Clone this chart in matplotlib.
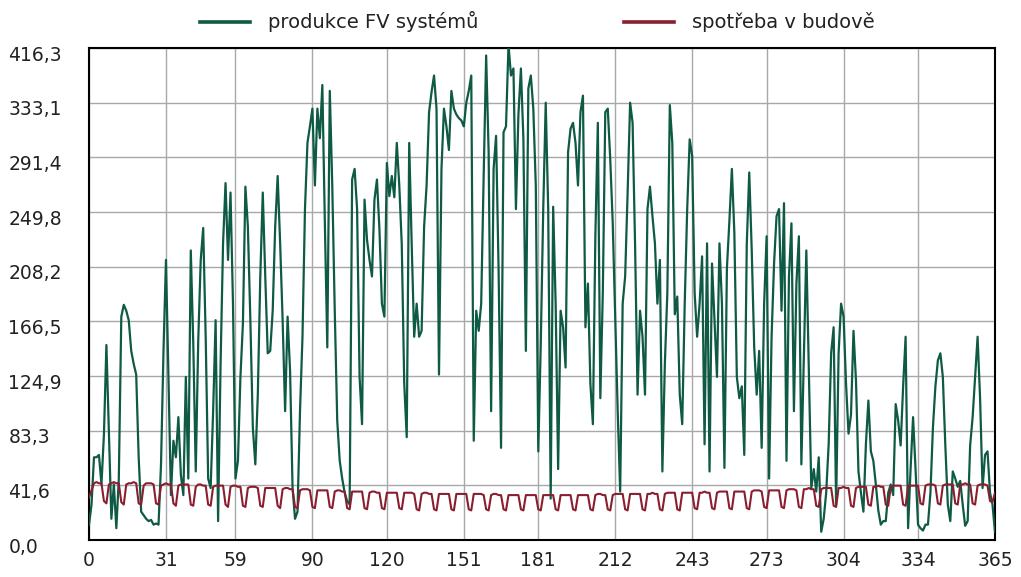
import numpy as np
import matplotlib
matplotlib.use("Agg")
import matplotlib.pyplot as plt
import matplotlib.transforms as mtransforms

# daily PV production, day 0..365
production = [
    13, 30, 70, 70, 72, 47, 89, 165, 92, 18,
    47, 10, 52, 189, 199, 194, 186, 160, 149, 140,
    70, 24, 21, 18, 16, 17, 13, 14, 13, 64,
    160, 237, 138, 38, 84, 70, 104, 55, 38, 138,
    52, 245, 166, 58, 169, 237, 264, 172, 52, 44,
    109, 186, 16, 149, 251, 302, 237, 294, 200, 52,
    67, 138, 183, 299, 265, 186, 95, 64, 123, 223,
    294, 223, 158, 160, 194, 265, 308, 251, 186, 109,
    189, 143, 44, 18, 24, 109, 172, 280, 336, 350,
    365, 300, 365, 340, 385, 270, 163, 380, 300, 194,
    101, 67, 52, 40, 33, 30, 305, 314, 280, 138,
    98, 288, 254, 237, 223, 288, 305, 263, 200, 189,
    319, 291, 308, 290, 336, 300, 250, 132, 87, 336,
    250, 172, 200, 172, 177, 265, 300, 362, 379, 393,
    365, 140, 314, 365, 350, 330, 380, 365, 360, 357,
    355, 350, 370, 380, 393, 84, 194, 177, 200, 308,
    410, 328, 109, 314, 342, 230, 78, 345, 350, 419,
    393, 399, 280, 360, 399, 340, 160, 382, 393, 365,
    300, 75, 166, 280, 370, 280, 35, 282, 200, 60,
    194, 180, 146, 328, 348, 353, 336, 300, 362, 376,
    180, 217, 132, 98, 257, 353, 120, 209, 362, 365,
    322, 268, 189, 109, 41, 200, 223, 294, 370, 353,
    250, 123, 194, 172, 123, 280, 299, 274, 251, 200,
    237, 58, 149, 209, 368, 336, 191, 206, 123, 98,
    200, 280, 339, 325, 209, 172, 200, 240, 81, 251,
    58, 234, 186, 138, 251, 200, 61, 230, 270, 314,
    260, 138, 120, 130, 72, 250, 311, 245, 163, 123,
    160, 78, 200, 257, 52, 172, 234, 274, 280, 194,
    285, 67, 223, 268, 109, 217, 257, 64, 155, 245,
    143, 44, 60, 41, 70, 7, 18, 40, 81, 158,
    180, 30, 158, 200, 189, 132, 90, 106, 177, 135,
    58, 40, 24, 81, 118, 75, 67, 47, 25, 13,
    16, 16, 40, 47, 38, 115, 101, 80, 130, 172,
    10, 60, 104, 60, 13, 10, 8, 13, 13, 40,
    95, 130, 152, 158, 138, 80, 30, 16, 58, 52,
    45, 50, 30, 12, 16, 80, 104, 138, 172, 120,
    44, 72, 75, 40, 30, 7,
]

# building consumption, day 0 then one row per week
consumption = [
    36,
    42, 48, 49, 48, 48, 33, 31,
    47, 48, 49, 48, 48, 32, 30,
    47, 48, 48, 49, 48, 31, 30,
    46, 48, 48, 48, 47, 31, 30,
    46, 47, 48, 47, 47, 31, 29,
    46, 47, 47, 47, 47, 30, 29,
    45, 47, 47, 46, 46, 30, 29,
    45, 46, 46, 46, 46, 30, 28,
    45, 46, 46, 45, 45, 29, 28,
    44, 45, 45, 45, 44, 29, 28,
    44, 44, 44, 44, 44, 29, 27,
    43, 44, 44, 43, 43, 28, 27,
    42, 43, 43, 43, 42, 28, 27,
    42, 42, 42, 42, 42, 28, 27,
    41, 42, 42, 41, 41, 27, 26,
    41, 41, 41, 41, 41, 27, 26,
    40, 41, 41, 40, 40, 27, 26,
    40, 40, 40, 40, 40, 27, 26,
    40, 40, 40, 40, 39, 26, 25,
    39, 40, 40, 39, 39, 26, 25,
    39, 39, 39, 39, 39, 26, 25,
    39, 39, 39, 39, 39, 26, 25,
    39, 39, 39, 39, 38, 26, 25,
    38, 39, 39, 38, 38, 26, 25,
    38, 38, 38, 38, 38, 26, 25,
    38, 38, 38, 38, 38, 26, 25,
    38, 38, 38, 38, 38, 26, 25,
    38, 38, 38, 38, 38, 26, 25,
    38, 38, 38, 38, 38, 26, 25,
    38, 39, 39, 38, 38, 26, 25,
    38, 39, 39, 39, 39, 26, 25,
    39, 39, 39, 39, 39, 26, 25,
    39, 39, 40, 39, 39, 26, 25,
    39, 40, 40, 40, 40, 26, 25,
    40, 40, 40, 40, 40, 27, 26,
    40, 40, 41, 40, 40, 27, 26,
    40, 41, 41, 41, 41, 27, 26,
    41, 41, 41, 41, 41, 27, 26,
    41, 42, 42, 42, 41, 28, 27,
    42, 42, 42, 42, 42, 28, 27,
    42, 43, 43, 43, 42, 28, 27,
    43, 43, 44, 43, 43, 29, 28,
    43, 44, 44, 44, 44, 29, 28,
    44, 44, 45, 44, 44, 29, 28,
    44, 45, 45, 45, 45, 30, 29,
    45, 45, 46, 45, 45, 30, 29,
    45, 46, 46, 46, 46, 30, 29,
    46, 46, 46, 46, 46, 31, 30,
    46, 47, 47, 47, 46, 31, 30,
    46, 47, 47, 47, 47, 31, 30,
    47, 47, 48, 47, 47, 31, 30,
    46, 47, 47, 47, 46, 33, 32,
    40,
]

day_ticks = [0, 31, 59, 90, 120, 151, 181, 212, 243, 273, 304, 334, 365]
y_labels = ["0,0", "41,6", "83,3", "124,9", "166,5", "208,2",
            "249,8", "291,4", "333,1", "416,3"]
y_max = 416.3

green = "#0e5a44"
red = "#8a1e2e"

plt.rcParams["font.family"] = ["DejaVu Sans"]

fig = plt.figure(figsize=(10.21, 5.77), dpi=100)
ax = fig.add_axes([0.0872, 0.0641, 0.8873, 0.8527])

days = np.arange(len(production))
ax.plot(days, production, color=green, lw=1.6, label="produkce FV systémů", zorder=3)
ax.plot(np.arange(len(consumption)), consumption, color=red, lw=1.5,
        label="spotřeba v budově", zorder=4)

ax.set_xlim(0, 365)
ax.set_ylim(0, y_max)
ax.set_xticks(day_ticks)
ax.set_xticklabels([str(d) for d in day_ticks])
ax.set_yticks(np.linspace(0, y_max, len(y_labels)))
ax.set_yticklabels(y_labels)

ax.grid(True, color="#a8a8a8", lw=1.0, zorder=0)
ax.tick_params(length=0, labelsize=13.5, colors="#222222")
ax.tick_params(axis="x", pad=8)
ax.tick_params(axis="y", pad=58)
offset = mtransforms.ScaledTranslation(0, -5 / 100, fig.dpi_scale_trans)
for lab in ax.get_yticklabels():
    lab.set_horizontalalignment("left")
    lab.set_transform(lab.get_transform() + offset)

for s in ax.spines.values():
    s.set_color("black")
    s.set_linewidth(1.5)

leg = fig.legend(loc="center", bbox_to_anchor=(0.526, 0.962), ncol=2, frameon=False,
                 fontsize=14, handlelength=2.6, handletextpad=0.9, columnspacing=7.5,
                 labelcolor="#222222")
for line in leg.get_lines():
    line.set_linewidth(2.6)

fig.savefig("out.png", dpi=100)
